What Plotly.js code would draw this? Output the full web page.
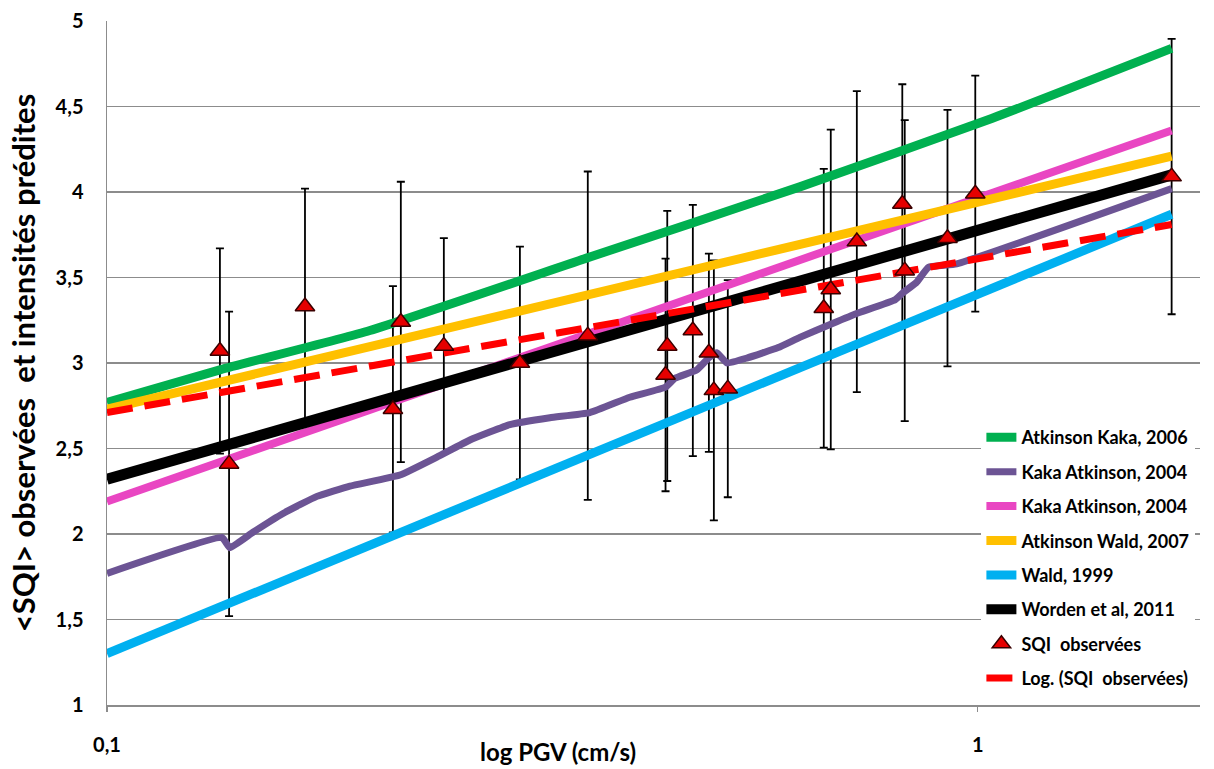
<!DOCTYPE html>
<html><head><meta charset="utf-8">
<script src="https://cdn.plot.ly/plotly-3.0.1.min.js"></script>
<style>html,body{margin:0;padding:0;background:#fff}#chart{width:1214px;height:769px}</style>
</head><body><div id="chart"></div>
<script>
// Observed SQI (x = PGV cm/s, y = mean SQI, err = +/- error bar)
const obsX = [0.1348, 0.1381, 0.1688, 0.2130, 0.2175, 0.2437, 0.2980, 0.3566, 0.4380, 0.4400, 0.4708, 0.4912, 0.4977, 0.5164, 0.6656, 0.6780, 0.7264, 0.8192, 0.8245, 0.9232, 0.9936, 1.670];
const obsY = [3.07, 2.41, 3.33, 2.73, 3.24, 3.10, 3.00, 3.16, 2.93, 3.10, 3.19, 3.06, 2.84, 2.85, 3.32, 3.43, 3.71, 3.93, 3.54, 3.73, 3.99, 4.09];
const obsErr = [0.60, 0.89, 0.69, 0.72, 0.82, 0.63, 0.68, 0.96, 0.68, 0.79, 0.735, 0.58, 0.76, 0.635, 0.815, 0.935, 0.88, 0.70, 0.88, 0.75, 0.69, 0.805];

// Atkinson Kaka, 2006
const greenX = [0.1, 0.1348, 0.2004, 0.3586, 0.6247, 1.0377, 1.670];
const greenY = [2.77, 2.96, 3.19, 3.62, 4.03, 4.43, 4.84];
// Kaka Atkinson, 2004 (purple)
const purpleX = [0.1, 0.1355, 0.1384, 0.1471, 0.1593, 0.1742, 0.1901, 0.2170, 0.2393, 0.2611, 0.2902, 0.3226, 0.3586, 0.3985, 0.4383, 0.4489, 0.4758, 0.4911, 0.5016, 0.5151, 0.5440, 0.5900, 0.6247, 0.6800, 0.7262, 0.8040, 0.8201, 0.8500, 0.8780, 0.9460, 1.670];
const purpleY = [1.77, 1.98, 1.92, 2.01, 2.12, 2.22, 2.28, 2.345, 2.45, 2.55, 2.64, 2.68, 2.71, 2.80, 2.86, 2.91, 2.96, 3.03, 3.06, 3.00, 3.03, 3.09, 3.15, 3.23, 3.29, 3.37, 3.41, 3.47, 3.56, 3.58, 4.02];
// Kaka Atkinson, 2004 (pink)
const pinkX = [0.1, 1.670];
const pinkY = [2.19, 4.36];
// Atkinson Wald, 2007
const orangeX = [0.1, 1.670];
const orangeY = [2.73, 4.21];
// Wald, 1999
const cyanX = [0.1, 1.670];
const cyanY = [1.30, 3.87];
// Worden et al, 2011
const blackX = [0.1, 1.670];
const blackY = [2.32, 4.10];
// Log. (SQI observées) trend line
const trendX = [0.1, 1.670];
const trendY = [2.71, 3.81];

const xTickVals = [0.1, 1];
const xTickText = ['0,1', '1'];

const FONT = 'Lato, "Open Sans", "DejaVu Sans", sans-serif';

function lineTrace(name, x, y, color, width, rank, smooth) {
  return {
    type: 'scatter', mode: 'lines', name: name, x: x, y: y,
    line: {color: color, width: width, shape: 'spline', smoothing: smooth},
    legendgroup: 'g' + rank, legendrank: rank
  };
}

const traces = [
  {
    type: 'scatter', mode: 'markers', x: obsX, y: obsY, showlegend: false, hoverinfo: 'skip',
    marker: {size: 1, color: 'rgba(0,0,0,0)'},
    error_y: {type: 'data', array: obsErr, visible: true, color: '#000', thickness: 1.8, width: 4}
  },
  lineTrace('Atkinson Kaka, 2006', greenX, greenY, '#00b050', 9, 1, 0.5),
  lineTrace('Kaka Atkinson, 2004', purpleX, purpleY, '#6c5494', 7, 2, 0.35),
  lineTrace('Kaka Atkinson, 2004', pinkX, pinkY, '#e946c2', 8, 3, 0.5),
  lineTrace('Atkinson Wald, 2007', orangeX, orangeY, '#ffc000', 9, 4, 0.5),
  lineTrace('Wald, 1999', cyanX, cyanY, '#00b0f0', 9, 5, 0.5),
  lineTrace('Worden et al, 2011', blackX, blackY, '#000000', 11, 6, 0.5),
  {
    type: 'scatter', mode: 'lines', name: 'Log. (SQI&nbsp; observées)', x: trendX, y: trendY,
    line: {color: '#ff0000', width: 7, dash: '26px,12px'},
    legendgroup: 'g8', legendrank: 8
  },
  {
    type: 'scatter', mode: 'markers', name: 'SQI&nbsp; observées', x: obsX, y: obsY,
    marker: {symbol: 'triangle-up', size: 17, color: '#e60000', line: {color: '#3a0000', width: 1.5}},
    legendgroup: 'g7', legendrank: 7
  }
];

const layout = {
  width: 1214, height: 769,
  margin: {l: 107, r: 14, t: 21, b: 64},
  paper_bgcolor: '#ffffff', plot_bgcolor: '#ffffff',
  separators: ', ',
  font: {family: FONT, color: '#000', size: 16},
  showlegend: true,
  legend: {
    x: 0.800, y: 0.418, xanchor: 'left', yanchor: 'top',
    bgcolor: '#ffffff', borderwidth: 0,
    traceorder: 'grouped', tracegroupgap: 8,
    font: {family: FONT, size: 18, weight: 'bold', color: '#000'}
  },
  xaxis: {
    type: 'log', range: [-1, 0.2553],
    tickvals: xTickVals, ticktext: xTickText,
    showgrid: false, zeroline: false,
    showline: true, linecolor: '#8c8c8c', linewidth: 1.5,
    ticks: 'outside', ticklen: 5, tickcolor: '#8c8c8c', tickwidth: 1.2,
    ticklabelstandoff: 16,
    tickfont: {family: FONT, size: 20, weight: 'bold', color: '#000'}
  },
  yaxis: {
    range: [1, 5], dtick: 0.5, tick0: 1,
    showgrid: true, gridcolor: '#8c8c8c', gridwidth: 1.5,
    zeroline: false, showline: true, linecolor: '#8c8c8c', linewidth: 1.5,
    ticks: '', ticklabelstandoff: 18,
    tickfont: {family: FONT, size: 20, weight: 'bold', color: '#000'},
    title: {text: '&lt;SQI&gt; observées&nbsp; et intensités prédites', standoff: 11,
            font: {family: FONT, size: 31, weight: 'bold', color: '#000'}}
  },
  annotations: [{
    text: 'log PGV (cm/s)', xref: 'paper', yref: 'paper', x: 0.4126, y: -0.0687,
    xanchor: 'center', yanchor: 'middle', showarrow: false,
    font: {family: FONT, size: 24, weight: 'bold', color: '#000'}
  }]
};

Plotly.newPlot('chart', traces, layout, {displayModeBar: false, staticPlot: true});
</script></body></html>
